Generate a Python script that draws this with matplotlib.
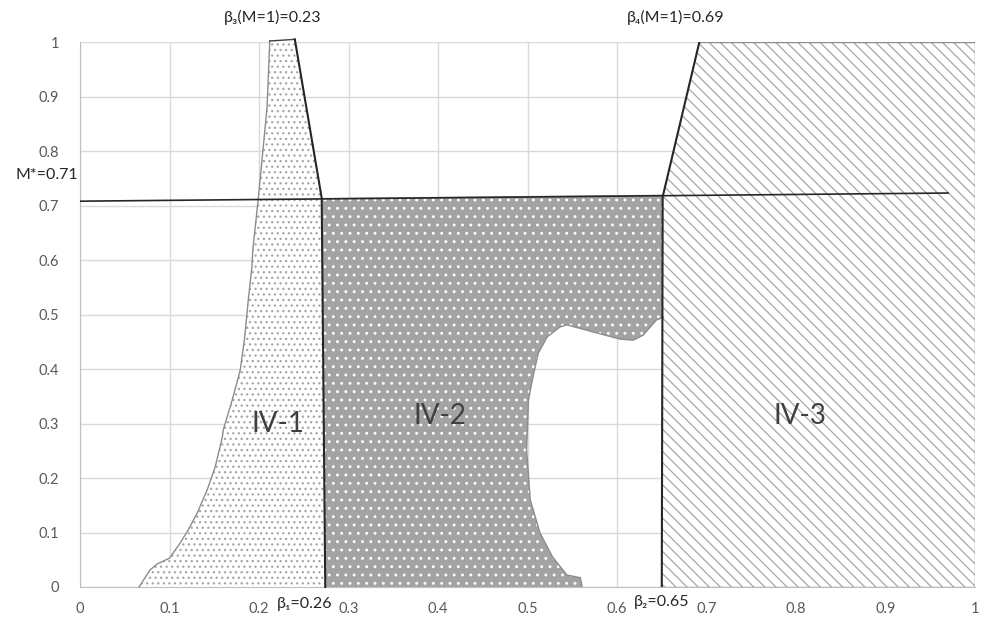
import matplotlib.pyplot as plt
from matplotlib.patches import Polygon
import numpy as np

plt.rcParams['font.family'] = ['Lato', 'DejaVu Sans']
plt.rcParams['hatch.linewidth'] = 0.9

# region IV-1: left boundary curve (bottom -> top), then right edge
iv1_curve_x = [0.066, 0.078, 0.086, 0.100, 0.112, 0.121, 0.131, 0.142, 0.151, 0.159,
               0.160, 0.170, 0.179, 0.184, 0.188, 0.192, 0.193, 0.199, 0.209, 0.212]
iv1_curve_y = [0.000, 0.031, 0.042, 0.053, 0.081, 0.105, 0.136, 0.178, 0.220, 0.275,
               0.288, 0.343, 0.398, 0.459, 0.527, 0.587, 0.618, 0.710, 0.881, 1.002]
iv1_right_x = [0.240, 0.270, 0.274]
iv1_right_y = [1.005, 0.714, 0.000]

# region IV-2: inner curve from the bottom up to the beta2 edge
iv2_curve_x = [0.561, 0.559, 0.544, 0.528, 0.514, 0.503, 0.499, 0.501, 0.506, 0.512,
               0.522, 0.536, 0.544, 0.578, 0.603, 0.618, 0.629, 0.644, 0.652]
iv2_curve_y = [0.000, 0.017, 0.022, 0.055, 0.099, 0.160, 0.251, 0.343, 0.385, 0.429,
               0.459, 0.477, 0.481, 0.466, 0.455, 0.453, 0.462, 0.490, 0.495]
iv2_top_x = [0.652, 0.270]
iv2_top_y = [0.720, 0.714]

# region IV-3
iv3_x = [0.650, 0.651, 0.692, 1.000, 1.000]
iv3_y = [0.000, 0.716, 1.000, 1.000, 0.000]

# M* line
mstar_x = [0.0, 0.97]
mstar_y = [0.708, 0.723]

ticks = np.round(np.arange(0, 1.01, 0.1), 1)
tick_labels = ['0'] + [f'{t:g}' for t in ticks[1:-1]] + ['1']

fig = plt.figure(figsize=(9.82, 6.28), dpi=100)
ax = fig.add_axes([0.0815, 0.0653, 0.9114, 0.8677])
ax.set_xlim(0, 1)
ax.set_ylim(0, 1)
ax.set_xticks(ticks)
ax.set_yticks(ticks)
ax.set_xticklabels(tick_labels)
ax.set_yticklabels(tick_labels)
ax.tick_params(length=0, labelsize=10.5, colors='#595959', pad=11)
ax.tick_params(axis='y', pad=15)
ax.grid(True, color='#d9d9d9', linewidth=1)
ax.set_axisbelow(True)
for s in ['top', 'right']:
    ax.spines[s].set_visible(False)
for s in ['left', 'bottom']:
    ax.spines[s].set_color('#bfbfbf')

# IV-1
p1x = iv1_curve_x + iv1_right_x
p1y = iv1_curve_y + iv1_right_y
ax.add_patch(Polygon(list(zip(p1x, p1y)), closed=True, facecolor='white',
                     edgecolor='#a6a6a6', hatch='...', linewidth=0, zorder=2, clip_on=False))
ax.plot(iv1_curve_x, iv1_curve_y, color='#8c8c8c', lw=1, zorder=3, clip_on=False)
ax.plot([iv1_curve_x[-1], iv1_right_x[0]], [iv1_curve_y[-1], iv1_right_y[0]],
        color='#404040', lw=1, zorder=3, clip_on=False)
ax.plot(iv1_right_x, iv1_right_y, color='#262626', lw=1.5, zorder=4, clip_on=False)

# IV-2
p2x = [iv1_right_x[-1]] + iv2_curve_x + iv2_top_x
p2y = [0.0] + iv2_curve_y + iv2_top_y
ax.add_patch(Polygon(list(zip(p2x, p2y)), closed=True, facecolor='#a3a3a3',
                     edgecolor='white', hatch='..', linewidth=0, zorder=2))
ax.plot(iv2_curve_x, iv2_curve_y, color='#8c8c8c', lw=1, zorder=3)

# IV-3
ax.add_patch(Polygon(list(zip(iv3_x, iv3_y)), closed=True, facecolor='white',
                     edgecolor='#a6a6a6', hatch='\\\\\\', linewidth=0, zorder=2))
ax.plot(iv3_x[:3], iv3_y[:3], color='#262626', lw=1.5, zorder=4)
ax.plot(iv3_x[2:] + [iv3_x[0]], iv3_y[2:] + [iv3_y[0]], color='#8c8c8c', lw=1, zorder=3)

ax.plot(mstar_x, mstar_y, color='#262626', lw=1.2, zorder=5)

# annotations
lab = dict(fontsize=11.5, color='#262626', clip_on=False)
ax.text(0.215, 1.046, 'β₃(M=1)=0.23', ha='center', va='center', **lab)
ax.text(0.666, 1.046, 'β₄(M=1)=0.69', ha='center', va='center', **lab)
ax.text(-0.002, 0.756, 'M*=0.71', ha='right', va='center', **lab)
ax.text(0.251, -0.031, 'β₁=0.26', ha='center', va='center', **lab)
ax.text(0.650, -0.028, 'β₂=0.65', ha='center', va='center', **lab)

big = dict(fontsize=20, color='#404040', ha='center', va='center', zorder=6)
ax.text(0.221, 0.299, 'IV-1', **big)
ax.text(0.402, 0.314, 'IV-2', **big)
ax.text(0.804, 0.314, 'IV-3', **big)

fig.savefig('out.png', dpi=100)
